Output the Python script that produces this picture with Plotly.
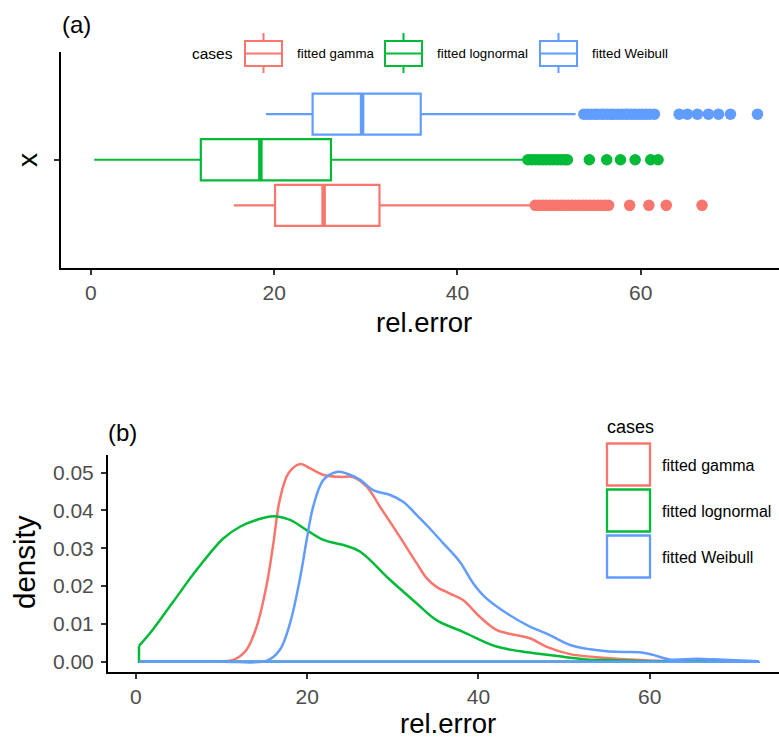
import plotly.graph_objects as go

# ---------------- data ----------------
cases = ["fitted gamma", "fitted lognormal", "fitted Weibull"]
colors = ["#F8766D", "#00BA38", "#619CFF"]

# boxplot statistics (rel.error)
box_lower = [15.6, 0.36, 19.1]
box_q1 = [20.1, 12.0, 24.2]
box_median = [25.4, 18.5, 29.6]
box_q3 = [31.5, 26.2, 36.0]
box_upper = [48.1, 47.3, 52.9]

out_gamma = [48.5, 48.9, 49.3, 49.7, 50.1, 50.5, 50.9, 51.3, 51.7, 52.1, 52.5, 52.9,
             53.3, 53.7, 54.1, 54.5, 54.9, 55.3, 55.7, 56.1, 56.5, 58.8, 60.9, 62.8, 66.7]
out_lognormal = [47.7, 48.1, 48.5, 48.9, 49.3, 49.7, 50.1, 50.5, 50.9, 51.3, 51.7, 52.0,
                 54.4, 56.3, 57.8, 59.4, 61.1, 61.9]
out_weibull = [53.8, 54.2, 54.6, 55.0, 55.3, 55.7, 56.0, 56.4, 56.8, 57.1, 57.5, 57.9,
               58.3, 58.6, 59.0, 59.4, 59.8, 60.2, 60.6, 61.0, 61.5, 64.2, 65.1, 66.2,
               67.4, 68.5, 69.8, 72.75]
outliers = [out_gamma, out_lognormal, out_weibull]

# density curves
dens_x_gamma = [0.36, 5, 10, 11.4, 12.9, 14.1, 15.3, 16.05, 16.8, 17.8, 19.2, 20.3, 21.9,
                23.8, 25.4, 26.95, 28.5, 30.8, 32.8, 33.95, 35.1, 36.6, 38.2, 40.15, 42.1,
                44.0, 46.0, 47.9, 50.7, 53.8, 57.7, 61.6, 66.7, 72.75]
dens_y_gamma = [0, 0, 0.0001, 0.0005, 0.0031, 0.0093, 0.0207, 0.0313, 0.0428, 0.0498,
                0.0523, 0.0512, 0.0494, 0.0489, 0.0488, 0.0463, 0.041, 0.0331, 0.026,
                0.0221, 0.0198, 0.0181, 0.0163, 0.0119, 0.0084, 0.0072, 0.0062, 0.004,
                0.002, 0.0012, 0.0006, 0.0002, 0.0001, 0]
dens_x_lognormal = [0.36, 1.64, 4.37, 7.09, 10.2, 12.15, 14.1, 16.05, 18.0, 19.94, 21.9,
                    24.6, 26.2, 29.7, 32.8, 35.1, 38.2, 42.1, 46.0, 49.9, 52.6, 55.7, 60,
                    65, 72.75]
dens_y_lognormal = [0.0042, 0.0075, 0.0159, 0.0243, 0.0326, 0.0357, 0.0375, 0.0385,
                    0.0375, 0.0348, 0.0322, 0.0306, 0.0291, 0.0216, 0.0154, 0.011,
                    0.0079, 0.004, 0.0024, 0.0013, 0.0006, 0.0004, 0.0001, 0.00005, 0]
dens_x_weibull = [0.36, 10, 15.3, 16.8, 18.0, 19.2, 19.94, 20.7, 21.9, 23.45, 24.6, 26.2,
                  27.7, 29.7, 31.2, 32.8, 34.3, 35.9, 37.8, 39.4, 40.9, 43.3, 46.0, 47.9,
                  50.7, 53.0, 56.1, 58.8, 60.4, 62.3, 65.5, 68.6, 72.75]
dens_y_weibull = [0, 0, 0.0003, 0.0031, 0.0102, 0.0225, 0.0322, 0.041, 0.0481, 0.0502,
                  0.0498, 0.0481, 0.0454, 0.0441, 0.0423, 0.0388, 0.0353, 0.0313, 0.0265,
                  0.0207, 0.0168, 0.0128, 0.0093, 0.0075, 0.0044, 0.0033, 0.0026, 0.0025,
                  0.0018, 0.0006, 0.0008, 0.0005, 0.0001]
dens_x = [dens_x_gamma, dens_x_lognormal, dens_x_weibull]
dens_y = [dens_y_gamma, dens_y_lognormal, dens_y_weibull]

x_ticks = [0, 20, 40, 60]
y_ticks = [0, 0.01, 0.02, 0.03, 0.04, 0.05]

# ---------------- layout helpers ----------------
W, H = 779, 740
FONT = "Liberation Sans, Arial, Helvetica, sans-serif"


def px(x):
    return x / W


def py(y):
    return 1 - y / H


box_pos = [0.746, 1.0, 1.254]
box_h = 0.229

fig = go.Figure()

# ---- top panel: boxplots ----
for i, c in enumerate(cases):
    fig.add_trace(go.Box(
        orientation="h", y=[box_pos[i]], q1=[box_q1[i]], median=[box_median[i]],
        q3=[box_q3[i]], lowerfence=[box_lower[i]], upperfence=[box_upper[i]],
        width=box_h, fillcolor="white", line=dict(color=colors[i], width=2.2),
        whiskerwidth=0, boxpoints=False, showlegend=False, hoverinfo="skip",
        xaxis="x", yaxis="y"))
    fig.add_trace(go.Scatter(
        x=[box_median[i], box_median[i]],
        y=[box_pos[i] - box_h / 2, box_pos[i] + box_h / 2],
        mode="lines", line=dict(color=colors[i], width=4.5),
        showlegend=False, hoverinfo="skip", xaxis="x", yaxis="y"))
    fig.add_trace(go.Scatter(
        x=outliers[i], y=[box_pos[i]] * len(outliers[i]), mode="markers",
        marker=dict(color=colors[i], size=11.5, line=dict(width=0)),
        showlegend=False, hoverinfo="skip", xaxis="x", yaxis="y"))

# ---- bottom panel: densities ----
for i, c in enumerate(cases):
    xs, ys = dens_x[i], dens_y[i]
    fig.add_trace(go.Scatter(
        x=xs, y=ys, mode="lines",
        line=dict(color=colors[i], width=2.5, shape="spline", smoothing=1.0),
        showlegend=False, hoverinfo="skip", xaxis="x2", yaxis="y2"))
    fig.add_trace(go.Scatter(
        x=[xs[-1], xs[-1], xs[0], xs[0]], y=[ys[-1], 0, 0, ys[0]], mode="lines",
        line=dict(color=colors[i], width=2.5),
        showlegend=False, hoverinfo="skip", xaxis="x2", yaxis="y2"))

axis_common = dict(showline=True, linecolor="black", linewidth=2, showgrid=False,
                   zeroline=False, ticks="outside", ticklen=5, tickwidth=1.5,
                   tickcolor="#333333",
                   tickfont=dict(family=FONT, size=21, color="#4D4D4D"))

fig.update_layout(
    width=W, height=H, margin=dict(l=0, r=0, t=0, b=0),
    paper_bgcolor="white", plot_bgcolor="white", showlegend=False,
    font=dict(family=FONT),
    xaxis=dict(domain=[px(61), 1], range=[-3.26, 75.1], tickvals=x_ticks,
               anchor="y", **axis_common),
    yaxis=dict(domain=[py(267.5), py(52)], range=[0.4, 1.6], tickvals=[1],
               ticktext=[""], anchor="x", **axis_common),
    xaxis2=dict(domain=[px(108), 1], range=[-3.26, 75.1], tickvals=x_ticks,
                anchor="y2", **axis_common),
    yaxis2=dict(domain=[py(671.7), py(455)], range=[-0.00265, 0.05468],
                tickvals=y_ticks, tickformat=".2f", anchor="x2",
                ticklabelstandoff=3, **axis_common),
)

ann = []


def text(x, y, s, size, xanchor="center", angle=0, color="black"):
    ann.append(dict(x=px(x), y=py(y), xref="paper", yref="paper", text=s,
                    showarrow=False, xanchor=xanchor, yanchor="middle",
                    textangle=angle, font=dict(family=FONT, size=size, color=color)))


text(60, 24, "(a)", 24, xanchor="left")
text(106, 432, "(b)", 24, xanchor="left")
text(424, 322, "rel.error", 27.5)
text(448, 723, "rel.error", 27.5)
text(27, 160, "x", 28, angle=-90)
text(24, 562, "density", 29.5, angle=-90)

shapes = []

# top legend
text(190, 53, "cases", 15.5, xanchor="left")
leg_icon_x = [245, 385, 540]
leg_label_x = [295, 435, 590]
for i, c in enumerate(cases):
    x0 = leg_icon_x[i]
    x1 = x0 + 37
    xm = (x0 + x1) / 2
    col = colors[i]
    shapes.append(dict(type="rect", xref="paper", yref="paper", x0=px(x0), x1=px(x1),
                       y0=py(66), y1=py(41), line=dict(color=col, width=2),
                       fillcolor="white"))
    shapes.append(dict(type="line", xref="paper", yref="paper", x0=px(x0), x1=px(x1),
                       y0=py(53.5), y1=py(53.5), line=dict(color=col, width=2)))
    shapes.append(dict(type="line", xref="paper", yref="paper", x0=px(xm), x1=px(xm),
                       y0=py(41), y1=py(33), line=dict(color=col, width=2)))
    shapes.append(dict(type="line", xref="paper", yref="paper", x0=px(xm), x1=px(xm),
                       y0=py(66), y1=py(73), line=dict(color=col, width=2)))
    text(leg_label_x[i], 53, c, 13.3, xanchor="left")

# bottom legend
text(605, 427, "cases", 18, xanchor="left")
leg2_top = [443.5, 489.5, 535.5]
for i, c in enumerate(cases):
    y0 = leg2_top[i]
    shapes.append(dict(type="rect", xref="paper", yref="paper", x0=px(607), x1=px(650),
                       y0=py(y0 + 42), y1=py(y0), line=dict(color=colors[i], width=2.3),
                       fillcolor="rgba(0,0,0,0)"))
    text(660, y0 + 22, c, 16, xanchor="left")

fig.update_layout(annotations=ann, shapes=shapes)

fig.write_html("out.html")
